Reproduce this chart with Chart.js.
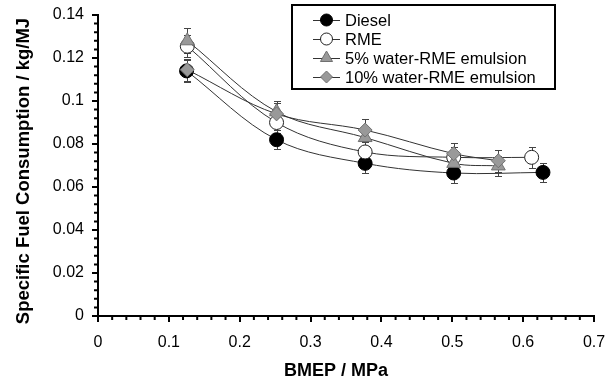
<!DOCTYPE html>
<html>
<head>
<meta charset="utf-8">
<script src="https://cdn.jsdelivr.net/npm/chart.js@4.4.1/dist/chart.umd.min.js"></script>
<style>
  html, body { margin: 0; padding: 0; background: #fff; }
  #wrap { width: 606px; height: 385px; }
</style>
</head>
<body>
<div id="wrap"><canvas id="c" width="606" height="385"></canvas></div>
<script>
// Specific fuel consumption vs. brake mean effective pressure
const seriesNames = ['Diesel', 'RME', '5% water-RME emulsion', '10% water-RME emulsion'];
const xTitle = 'BMEP / MPa';
const yTitle = 'Specific Fuel Consumption / kg/MJ';

const bmepDiesel = [0.125, 0.252, 0.377, 0.502, 0.628];
const sfcDiesel  = [0.114, 0.082, 0.071, 0.0665, 0.0668];
const errDiesel  = [0.005, 0.0045, 0.0045, 0.0045, 0.0045];

const bmepRME = [0.126, 0.252, 0.377, 0.502, 0.612];
const sfcRME  = [0.1255, 0.090, 0.0763, 0.0738, 0.0738];
const errRME  = [0.005, 0.005, 0.0045, 0.005, 0.005];

const bmepW5 = [0.126, 0.252, 0.377, 0.502, 0.565];
const sfcW5  = [0.128, 0.095, 0.083, 0.071, 0.0698];
const errW5  = [0.0058, 0.005, 0.005, 0.0045, 0.0045];

const bmepW10 = [0.126, 0.252, 0.377, 0.502, 0.565];
const sfcW10  = [0.1145, 0.094, 0.0865, 0.0755, 0.0722];
const errW10  = [0.005, 0.005, 0.005, 0.005, 0.005];

const xTicksMajor = 0.1, xTicksMinor = 0.02, xMax = 0.7;
const yTicksMajor = 0.02, yTicksMinor = 0.004, yMax = 0.14;

function points(xs, ys, es) {
  return xs.map((x, i) => ({ x: x, y: ys[i], err: es[i] }));
}

// plain decimal labels without trailing zeros (0.1, 0.12, ...)
function tickText(v) {
  return String(parseFloat(Number(v).toFixed(4)));
}

const FONT = "'Liberation Sans', Arial, sans-serif";
Chart.defaults.font.family = FONT;
Chart.defaults.color = '#000';

// vertical error bars with caps, drawn underneath the markers
const errorBars = {
  id: 'errorBars',
  beforeDatasetsDraw(chart) {
    const { ctx, scales: { x, y } } = chart;
    ctx.save();
    ctx.strokeStyle = '#444';
    ctx.lineWidth = 1;
    chart.data.datasets.forEach((ds, i) => {
      if (!chart.isDatasetVisible(i)) return;
      ds.data.forEach(p => {
        const px = Math.round(x.getPixelForValue(p.x)) + 0.5;
        const yt = Math.round(y.getPixelForValue(p.y + p.err)) + 0.5;
        const yb = Math.round(y.getPixelForValue(p.y - p.err)) + 0.5;
        ctx.beginPath();
        ctx.moveTo(px, yt); ctx.lineTo(px, yb);
        ctx.moveTo(px - 3.5, yt); ctx.lineTo(px + 3.5, yt);
        ctx.moveTo(px - 3.5, yb); ctx.lineTo(px + 3.5, yb);
        ctx.stroke();
      });
    });
    ctx.restore();
  }
};

// short minor tick marks on both axes
const minorTicks = {
  id: 'minorTicks',
  afterDraw(chart) {
    const { ctx, scales: { x, y }, chartArea: a } = chart;
    ctx.save();
    ctx.strokeStyle = '#000';
    ctx.lineWidth = 2;
    ctx.beginPath();
    const ny = Math.round(yMax / yTicksMinor);
    const per = Math.round(yTicksMajor / yTicksMinor);
    for (let i = 0; i <= ny; i++) {
      if (i % per === 0) continue;
      const py = y.getPixelForValue(i * yTicksMinor);
      ctx.moveTo(a.left, py); ctx.lineTo(a.left - 4, py);
    }
    const nx = Math.round(xMax / xTicksMinor);
    const perx = Math.round(xTicksMajor / xTicksMinor);
    for (let i = 0; i <= nx; i++) {
      if (i % perx === 0) continue;
      const px = x.getPixelForValue(i * xTicksMinor);
      ctx.moveTo(px, a.bottom); ctx.lineTo(px, a.bottom + 4);
    }
    ctx.stroke();
    ctx.restore();
  }
};

// bold axis titles
const axisTitles = {
  id: 'axisTitles',
  afterDraw(chart) {
    const { ctx } = chart;
    ctx.save();
    ctx.fillStyle = '#000';
    ctx.textAlign = 'center';
    ctx.textBaseline = 'middle';
    ctx.font = 'bold 18px ' + FONT;
    ctx.fillText(xTitle, 336, 371);
    ctx.translate(24, 171);
    ctx.rotate(-Math.PI / 2);
    ctx.font = 'bold 18.5px ' + FONT;
    ctx.fillText(yTitle, 0, 0);
    ctx.restore();
  }
};

// boxed legend in the upper right of the plot
const boxLegend = {
  id: 'boxLegend',
  afterDraw(chart) {
    const { ctx } = chart;
    const box = { left: 292, top: 5, right: 555, bottom: 89 };
    ctx.save();
    ctx.fillStyle = '#fff';
    ctx.fillRect(box.left, box.top, box.right - box.left, box.bottom - box.top);
    ctx.strokeStyle = '#000';
    ctx.lineWidth = 2;
    ctx.strokeRect(box.left, box.top, box.right - box.left, box.bottom - box.top);
    ctx.font = '16.5px ' + FONT;
    ctx.textBaseline = 'middle';
    ctx.textAlign = 'left';
    chart.data.datasets.forEach((ds, i) => {
      const cy = 20 + i * 19;
      ctx.strokeStyle = ds.borderColor;
      ctx.lineWidth = 1;
      ctx.beginPath();
      ctx.moveTo(313, cy + 0.5); ctx.lineTo(340, cy + 0.5);
      ctx.stroke();
      ctx.fillStyle = ds.pointBackgroundColor;
      ctx.strokeStyle = ds.pointBorderColor;
      ctx.lineWidth = ds.pointBorderWidth;
      Chart.helpers.drawPoint(ctx, {
        pointStyle: ds.pointStyle,
        radius: ds.pointRadius - 1,
        borderWidth: ds.pointBorderWidth,
        rotation: 0
      }, 326.5, cy);
      ctx.fillStyle = '#000';
      ctx.fillText(ds.label, 345, cy + 1);
    });
    ctx.restore();
  }
};

const lineCommon = {
  borderColor: '#333',
  borderWidth: 1,
  tension: 0.35,
  showLine: true,
  fill: false
};

new Chart(document.getElementById('c'), {
  type: 'scatter',
  data: {
    datasets: [
      Object.assign({}, lineCommon, {
        label: seriesNames[0], data: points(bmepDiesel, sfcDiesel, errDiesel),
        pointStyle: 'circle', pointRadius: 7, pointBackgroundColor: '#000',
        pointBorderColor: '#000', pointBorderWidth: 1, order: 4
      }),
      Object.assign({}, lineCommon, {
        label: seriesNames[1], data: points(bmepRME, sfcRME, errRME),
        pointStyle: 'circle', pointRadius: 7, pointBackgroundColor: '#fff',
        pointBorderColor: '#222', pointBorderWidth: 1, order: 3
      }),
      Object.assign({}, lineCommon, {
        label: seriesNames[2], data: points(bmepW5, sfcW5, errW5),
        pointStyle: 'triangle', pointRadius: 8, pointBackgroundColor: '#999',
        pointBorderColor: '#707070', pointBorderWidth: 1, order: 2
      }),
      Object.assign({}, lineCommon, {
        label: seriesNames[3], data: points(bmepW10, sfcW10, errW10),
        pointStyle: 'rectRot', pointRadius: 7, pointBackgroundColor: '#999',
        pointBorderColor: '#707070', pointBorderWidth: 1, order: 1
      })
    ]
  },
  options: {
    responsive: false,
    devicePixelRatio: 1,
    animation: false,
    layout: { padding: { left: 0, right: 12, top: 15, bottom: 0 } },
    plugins: { legend: { display: false }, tooltip: { enabled: false } },
    scales: {
      x: {
        type: 'linear', min: 0, max: xMax,
        ticks: { stepSize: xTicksMajor, font: { size: 16 }, color: '#000', padding: 11, maxRotation: 0, callback: tickText },
        grid: { drawOnChartArea: false, tickLength: 6, color: '#000', lineWidth: 2 },
        border: { color: '#000', width: 2 },
        title: { display: false },
        afterFit(s) { s.height = 69; s.paddingLeft = 0; s.paddingRight = 0; }
      },
      y: {
        type: 'linear', min: 0, max: yMax,
        ticks: { stepSize: yTicksMajor, font: { size: 16 }, color: '#000', padding: 8, callback: tickText },
        grid: { drawOnChartArea: false, tickLength: 6, color: '#000', lineWidth: 2 },
        border: { color: '#000', width: 2 },
        title: { display: false },
        afterFit(s) { s.width = 98; s.paddingTop = 0; s.paddingBottom = 0; }
      }
    }
  },
  plugins: [errorBars, minorTicks, axisTitles, boxLegend]
});
</script>
</body>
</html>
